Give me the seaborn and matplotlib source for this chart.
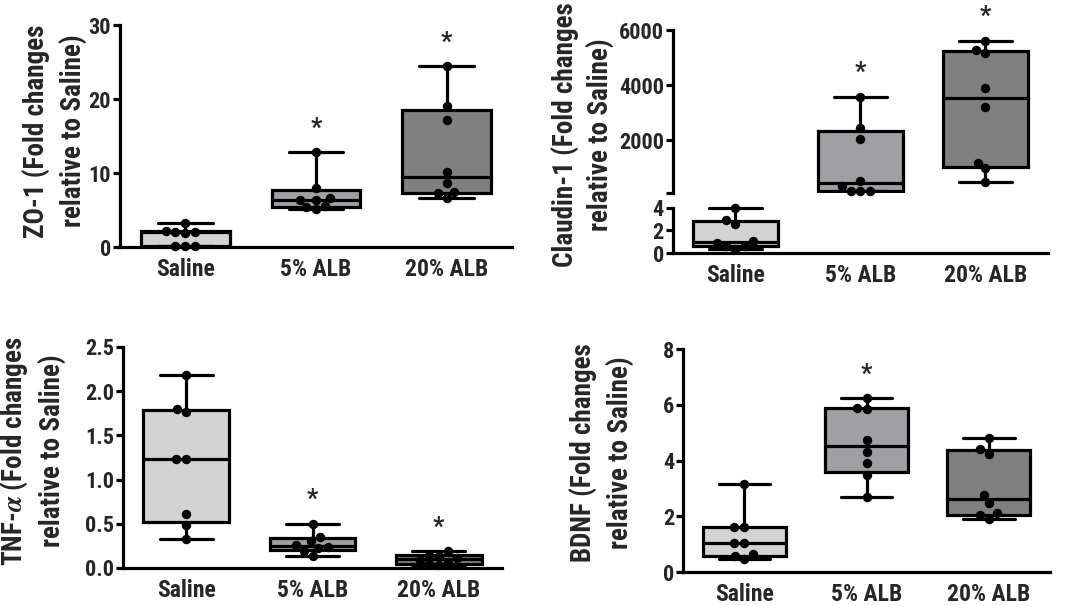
import numpy as np
import pandas as pd
import matplotlib
matplotlib.use('Agg')
import matplotlib.pyplot as plt
import seaborn as sns
from matplotlib import font_manager

# groups and box fills
groups = ['Saline', '5% ALB', '20% ALB']
box_colors = ['#d3d3d3', '#a0a0a4', '#808080']

# ZO-1
zo1_saline = [0.15, 0.2, 0.2, 1.95, 2.0, 2.0, 2.2, 3.3]
zo1_alb5 = [5.1, 5.4, 5.5, 6.4, 6.4, 6.6, 8.0, 12.8]
zo1_alb20 = [6.6, 7.3, 7.4, 8.7, 10.1, 17.2, 19.0, 24.4]
zo1_sig = [False, True, True]

# Claudin-1
cld_saline = [0.35, 0.6, 0.65, 0.9, 1.05, 2.55, 2.9, 4.0]
cld_alb5 = [160, 160, 160, 330, 510, 2040, 2420, 3580]
cld_alb20 = [490, 970, 1180, 3190, 3880, 5180, 5270, 5610]
cld_sig = [False, True, True]

# TNF-alpha
tnf_saline = [0.33, 0.49, 0.61, 1.23, 1.23, 1.77, 1.80, 2.18]
tnf_alb5 = [0.14, 0.19, 0.23, 0.24, 0.26, 0.31, 0.35, 0.50]
tnf_alb20 = [0.03, 0.04, 0.06, 0.09, 0.11, 0.14, 0.15, 0.19]
tnf_sig = [False, True, True]

# BDNF
bdnf_saline = [0.48, 0.56, 0.66, 1.05, 1.05, 1.62, 1.62, 3.17]
bdnf_alb5 = [2.69, 3.47, 3.92, 4.31, 4.75, 5.84, 5.90, 6.23]
bdnf_alb20 = [1.92, 2.04, 2.10, 2.46, 2.75, 4.25, 4.40, 4.81]
bdnf_sig = [False, True, False]

sns.set_style('ticks')
names = {f.name for f in font_manager.fontManager.ttflist}
base_font = 'Liberation Sans'
scale = 0.84
for cand in ['Liberation Sans Narrow', 'Roboto Condensed', 'PT Sans Narrow']:
    if cand in names:
        base_font, scale = cand, 1.0
        break
plt.rcParams['font.family'] = [base_font, 'DejaVu Sans']
plt.rcParams['font.weight'] = 'bold'
plt.rcParams['mathtext.fontset'] = 'stix'

LW = 2.3
TICK_FS = 16 * scale
LABEL_FS = 19.5 * scale


def long_df(samples):
    return pd.DataFrame({
        'group': np.repeat(groups, [len(s) for s in samples]),
        'value': np.concatenate([np.asarray(s, float) for s in samples]),
    })


def draw_boxes(ax, samples):
    # GraphPad style quartiles (n+1 method), whiskers min to max
    stats = []
    for vals in samples:
        v = np.asarray(vals, float)
        q1, med, q3 = np.percentile(v, [25, 50, 75], method='weibull')
        stats.append(dict(med=med, q1=q1, q3=q3, whislo=v.min(), whishi=v.max(), fliers=[]))
    bp = ax.bxp(stats, positions=range(len(samples)), widths=0.68, capwidths=0.42,
                patch_artist=True, showfliers=False, manage_ticks=False,
                boxprops=dict(edgecolor='black', linewidth=LW),
                whiskerprops=dict(color='black', linewidth=LW),
                capprops=dict(color='black', linewidth=LW),
                medianprops=dict(color='black', linewidth=LW))
    for patch, c in zip(bp['boxes'], box_colors):
        patch.set_facecolor(c)


def draw_points(ax, samples):
    sns.swarmplot(data=long_df(samples), x='group', y='value', order=groups,
                  color='black', size=6.8, ax=ax, zorder=4, clip_on=False)


def style_axes(ax, show_x=True):
    sns.despine(ax=ax)
    for s in ['left', 'bottom']:
        ax.spines[s].set_linewidth(LW)
        ax.spines[s].set_color('black')
    ax.tick_params(axis='y', length=5, width=LW, pad=1.5, labelsize=TICK_FS, color='black')
    ax.tick_params(axis='x', length=0, pad=8, labelsize=17 * scale)
    ax.set_xlim(-0.5, 2.5)
    ax.set_xlabel('')
    ax.set_ylabel('')
    if not show_x:
        ax.spines['bottom'].set_visible(False)
        ax.tick_params(axis='x', labelbottom=False)


def add_stars(ax, samples, sig):
    for i, (vals, s) in enumerate(zip(samples, sig)):
        if s:
            ax.annotate('*', xy=(i, max(vals)), xytext=(0, 12), textcoords='offset points',
                        ha='center', va='baseline', fontsize=18 * scale, fontweight='bold',
                        annotation_clip=False)


fig = plt.figure(figsize=(10.84, 6.05), dpi=100)
fig.patch.set_facecolor('white')

# ZO-1
zo1 = [zo1_saline, zo1_alb5, zo1_alb20]
ax = fig.add_axes([0.1107, 0.5917, 0.3616, 0.3669])
draw_points(ax, zo1)
draw_boxes(ax, zo1)
style_axes(ax)
ax.set_ylim(0, 30)
ax.set_yticks([0, 10, 20, 30])
add_stars(ax, zo1, zo1_sig)
fig.text(0.0507, 0.7835, 'ZO-1 (Fold changes\nrelative to Saline)', rotation=90,
         ha='center', va='center', ma='center', fontsize=LABEL_FS, linespacing=1.4)

# Claudin-1 with broken axis
cld = [cld_saline, cld_alb5, cld_alb20]
ax_up = fig.add_axes([0.6208, 0.6810, 0.3459, 0.2694])
ax_lo = fig.add_axes([0.6208, 0.5818, 0.3459, 0.0800])
draw_points(ax_up, [[], cld_alb5, cld_alb20])
draw_boxes(ax_up, cld)
style_axes(ax_up, show_x=False)
ax_up.set_ylim(73, 6000)
ax_up.set_yticks([73, 2000, 4000, 6000])
ax_up.set_yticklabels(['', '2000', '4000', '6000'])
add_stars(ax_up, cld, cld_sig)

draw_points(ax_lo, [cld_saline, [], []])
draw_boxes(ax_lo, cld)
style_axes(ax_lo)
ax_lo.set_ylim(0, 4.3)
ax_lo.spines['left'].set_bounds(0, 4)
ax_lo.set_yticks([0, 2, 4])
fig.text(0.5385, 0.777, 'Claudin-1 (Fold changes\nrelative to Saline)', rotation=90,
         ha='center', va='center', ma='center', fontsize=LABEL_FS, linespacing=1.3)

# TNF-alpha
tnf = [tnf_saline, tnf_alb5, tnf_alb20]
ax = fig.add_axes([0.1135, 0.0612, 0.3496, 0.3653])
draw_points(ax, tnf)
draw_boxes(ax, tnf)
style_axes(ax)
ax.set_ylim(0, 2.5)
ax.set_yticks([0.0, 0.5, 1.0, 1.5, 2.0, 2.5])
ax.set_yticklabels(['0.0', '0.5', '1.0', '1.5', '2.0', '2.5'])
add_stars(ax, tnf, tnf_sig)
fig.text(0.0304, 0.2545, 'TNF-$\\alpha$ (Fold changes\nrelative to Saline)', rotation=90,
         ha='center', va='center', ma='center', fontsize=LABEL_FS, linespacing=1.4)

# BDNF
bdnf = [bdnf_saline, bdnf_alb5, bdnf_alb20]
ax = fig.add_axes([0.6301, 0.0545, 0.3386, 0.3686])
draw_points(ax, bdnf)
draw_boxes(ax, bdnf)
style_axes(ax)
ax.set_ylim(0, 8)
ax.set_yticks([0, 2, 4, 6, 8])
add_stars(ax, bdnf, bdnf_sig)
fig.text(0.5554, 0.2512, 'BDNF (Fold changes\nrelative to Saline)', rotation=90,
         ha='center', va='center', ma='center', fontsize=LABEL_FS, linespacing=1.4)

fig.savefig('out.png', dpi=100, facecolor='white')
